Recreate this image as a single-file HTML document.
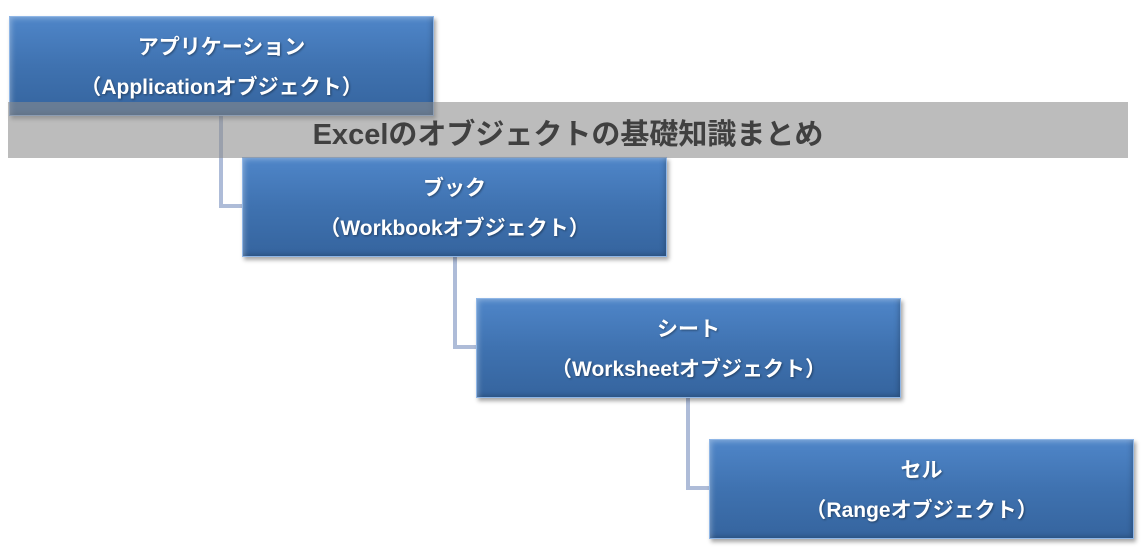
<!DOCTYPE html>
<html><head><meta charset="utf-8"><style>
body{margin:0;width:1143px;height:553px;background:#fff;position:relative;overflow:hidden;font-family:"Liberation Sans","Noto Sans CJK JP",sans-serif;}
.box{position:absolute;width:425px;height:100px;background:linear-gradient(#4f86c9,#3f72b0 50%,#35649e);box-shadow:2px 3px 4px rgba(0,0,0,.35), inset 0 0 0 1px #8fb6e6, inset 8px 8px 6px -6px rgba(255,255,255,.35), inset -8px -8px 6px -6px rgba(0,0,0,.25);color:#fff;font-weight:bold;font-size:21px;text-align:center;box-sizing:border-box;}
.box div{position:absolute;left:0;right:0;text-shadow:1px 1px 2px rgba(0,0,0,.4);}
.l1{top:15px}.l2{top:55px}
.v,.h{position:absolute;background:#aebcd8;}
.band{position:absolute;left:8px;top:102px;width:1120px;height:56px;background:rgba(140,140,140,.58);}
.title{position:absolute;left:8px;width:1120px;top:111px;text-align:center;font-size:29px;font-weight:bold;color:#404040;}
</style></head><body>
<div class="v" style="left:219px;top:115px;width:4px;height:93px"></div>
<div class="h" style="left:219px;top:204px;width:25px;height:4px"></div>
<div class="v" style="left:453px;top:256px;width:4px;height:93px"></div>
<div class="h" style="left:453px;top:345px;width:25px;height:4px"></div>
<div class="v" style="left:686px;top:397px;width:4px;height:93px"></div>
<div class="h" style="left:686px;top:486px;width:25px;height:4px"></div>
<div class="box" style="left:9px;top:16px"><div class="l1">アプリケーション</div><div class="l2">（Applicationオブジェクト）</div></div>
<div class="box" style="left:242px;top:157px"><div class="l1">ブック</div><div class="l2">（Workbookオブジェクト）</div></div>
<div class="box" style="left:476px;top:298px"><div class="l1">シート</div><div class="l2">（Worksheetオブジェクト）</div></div>
<div class="box" style="left:709px;top:439px"><div class="l1">セル</div><div class="l2">（Rangeオブジェクト）</div></div>
<div class="band"></div>
<div class="title">Excelのオブジェクトの基礎知識まとめ</div>
</body></html>
